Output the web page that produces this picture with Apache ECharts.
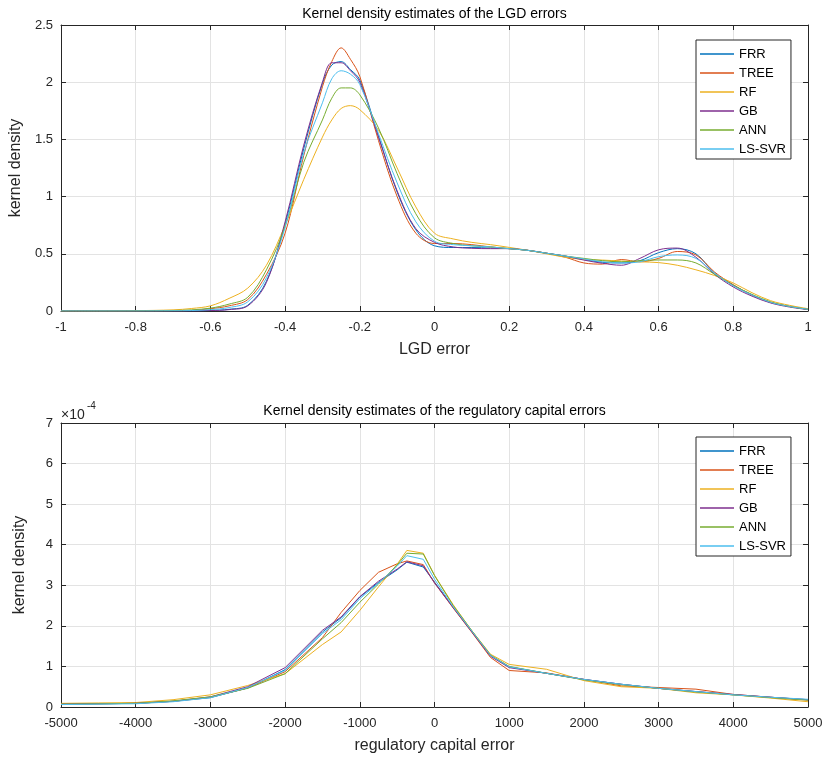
<!DOCTYPE html>
<html>
<head>
<meta charset="utf-8">
<script src="https://cdn.jsdelivr.net/npm/echarts@6/dist/echarts.min.js"></script>
<style>
html,body{margin:0;padding:0;background:#fff;}
#chart{width:827px;height:763px;}
</style>
</head>
<body>
<div id="chart"></div>
<script>
// ---------- DATA ----------
const seriesNames = ['FRR', 'TREE', 'RF', 'GB', 'ANN', 'LS-SVR'];
const seriesColors = ['#0072BD', '#D95319', '#EDB120', '#7E2F8E', '#77AC30', '#4DBEEE'];

// Top panel: LGD error
const lgdX = [-1,-0.9,-0.8,-0.7,-0.65,-0.6,-0.55,-0.5,-0.45,-0.4,-0.35,-0.3,-0.275,-0.25,-0.225,-0.2,-0.15,-0.1,-0.05,0,0.05,0.1,0.15,0.2,0.25,0.3,0.35,0.4,0.45,0.5,0.55,0.6,0.65,0.7,0.75,0.8,0.85,0.9,0.95,1];
const lgdFRR  = [0,0,0,0.001,0.002,0.005,0.015,0.05,0.26,0.76,1.42,1.99,2.15,2.18,2.11,2.02,1.53,1.04,0.71,0.57,0.555,0.555,0.55,0.545,0.53,0.505,0.48,0.45,0.425,0.42,0.44,0.51,0.545,0.5,0.33,0.225,0.14,0.075,0.04,0.015];
const lgdTREE = [0,0,0,0.002,0.005,0.02,0.045,0.1,0.32,0.68,1.36,1.96,2.18,2.30,2.2,2.05,1.49,1.0,0.68,0.59,0.59,0.58,0.56,0.545,0.53,0.505,0.47,0.42,0.41,0.45,0.43,0.46,0.52,0.49,0.34,0.23,0.14,0.075,0.04,0.015];
const lgdRF   = [0,0.001,0.003,0.01,0.022,0.045,0.11,0.2,0.4,0.75,1.15,1.52,1.67,1.77,1.795,1.76,1.58,1.25,0.91,0.68,0.63,0.6,0.58,0.556,0.53,0.5,0.47,0.45,0.445,0.437,0.43,0.423,0.4,0.36,0.31,0.245,0.16,0.09,0.05,0.02];
const lgdGB   = [0,0,0,0.001,0.001,0.004,0.012,0.045,0.25,0.78,1.45,2.0,2.17,2.17,2.1,2.0,1.52,1.05,0.72,0.6,0.56,0.548,0.545,0.545,0.53,0.505,0.48,0.445,0.417,0.40,0.46,0.535,0.55,0.47,0.32,0.21,0.13,0.07,0.035,0.012];
const lgdANN  = [0,0,0.001,0.004,0.01,0.025,0.06,0.12,0.36,0.74,1.3,1.67,1.86,1.95,1.95,1.89,1.6,1.2,0.85,0.64,0.59,0.57,0.56,0.545,0.53,0.505,0.48,0.46,0.44,0.43,0.44,0.446,0.446,0.42,0.32,0.225,0.145,0.08,0.04,0.015];
const lgdLS   = [0,0,0,0.002,0.004,0.012,0.03,0.08,0.29,0.73,1.38,1.82,2.03,2.1,2.07,1.98,1.55,1.12,0.78,0.61,0.58,0.57,0.56,0.545,0.53,0.505,0.48,0.455,0.43,0.42,0.43,0.475,0.49,0.46,0.33,0.22,0.14,0.075,0.04,0.015];

// Bottom panel: regulatory capital error (density in units of 1e-4)
const capX = [-5000,-4500,-4000,-3500,-3000,-2500,-2000,-1500,-1250,-1000,-750,-500,-370,-150,0,250,500,750,1000,1500,2000,2500,3000,3500,4000,4500,5000];
const capFRR  = [0.07,0.08,0.09,0.14,0.23,0.47,0.92,1.85,2.2,2.71,3.07,3.38,3.57,3.45,3.08,2.46,1.86,1.27,0.99,0.83,0.68,0.56,0.46,0.38,0.3,0.24,0.18];
const capTREE = [0.07,0.08,0.09,0.14,0.24,0.47,0.87,1.71,2.33,2.87,3.32,3.53,3.6,3.51,3.06,2.44,1.84,1.22,0.9,0.84,0.68,0.52,0.48,0.44,0.31,0.24,0.17];
const capRF   = [0.09,0.1,0.11,0.18,0.3,0.53,0.82,1.54,1.85,2.38,2.96,3.52,3.86,3.79,3.25,2.52,1.88,1.3,1.05,0.93,0.65,0.5,0.46,0.35,0.3,0.22,0.13];
const capGB   = [0.07,0.08,0.09,0.14,0.25,0.5,0.97,1.89,2.22,2.72,3.1,3.4,3.58,3.48,3.06,2.45,1.85,1.25,0.97,0.83,0.68,0.56,0.46,0.38,0.31,0.24,0.18];
const capANN  = [0.07,0.08,0.09,0.15,0.25,0.46,0.82,1.68,2.08,2.58,3.03,3.5,3.79,3.77,3.24,2.5,1.88,1.28,1.0,0.83,0.67,0.55,0.46,0.37,0.3,0.23,0.17];
const capLS   = [0.06,0.07,0.08,0.13,0.23,0.48,0.9,1.81,2.15,2.67,3.05,3.47,3.73,3.64,3.15,2.47,1.87,1.27,0.99,0.83,0.68,0.56,0.46,0.38,0.3,0.24,0.19];

const lgdSeries = [lgdFRR, lgdTREE, lgdRF, lgdGB, lgdANN, lgdLS];
const capSeries = [capFRR, capTREE, capRF, capGB, capANN, capLS];

// ---------- CHART ----------
const FONT = '"Liberation Sans", Arial, Helvetica, sans-serif';
const AX = '#262626';
const GRIDC = '#e3e3e3';
const chart = echarts.init(document.getElementById('chart'), null, {renderer: 'canvas'});

function zip(xs, ys) { return xs.map((x, i) => [x, ys[i]]); }

function xAxisMain(gi, min, max, interval, name) {
  return {
    type: 'value', gridIndex: gi, min: min, max: max, interval: interval, position: 'bottom',
    name: name, nameLocation: 'middle', nameGap: 31,
    nameTextStyle: {fontFamily: FONT, fontSize: 16, color: AX},
    axisLine: {show: true, onZero: false, lineStyle: {color: AX, width: 1}},
    axisTick: {show: true, inside: true, length: 5, lineStyle: {color: AX}},
    axisLabel: {fontFamily: FONT, fontSize: 13, color: AX, margin: 10, formatter: v => String(v)},
    splitLine: {show: true, lineStyle: {color: GRIDC, width: 1}}
  };
}
function xAxisTop(gi, min, max, interval) {
  return {
    type: 'value', gridIndex: gi, min: min, max: max, interval: interval, position: 'top',
    axisLine: {show: true, onZero: false, lineStyle: {color: AX, width: 1}},
    axisTick: {show: true, inside: true, length: 5, lineStyle: {color: AX}},
    axisLabel: {show: false}, splitLine: {show: false}
  };
}
function yAxisMain(gi, min, max, interval, name, fmt) {
  return {
    type: 'value', gridIndex: gi, min: min, max: max, interval: interval, position: 'left',
    name: name, nameLocation: 'middle', nameGap: 33, nameRotate: 90,
    nameTextStyle: {fontFamily: FONT, fontSize: 16, color: AX},
    axisLine: {show: true, onZero: false, lineStyle: {color: AX, width: 1}},
    axisTick: {show: true, inside: true, length: 5, lineStyle: {color: AX}},
    axisLabel: {fontFamily: FONT, fontSize: 13, color: AX, margin: 8, formatter: fmt},
    splitLine: {show: true, lineStyle: {color: GRIDC, width: 1}}
  };
}
function yAxisRight(gi, min, max, interval) {
  return {
    type: 'value', gridIndex: gi, min: min, max: max, interval: interval, position: 'right',
    axisLine: {show: true, onZero: false, lineStyle: {color: AX, width: 1}},
    axisTick: {show: true, inside: true, length: 5, lineStyle: {color: AX}},
    axisLabel: {show: false}, splitLine: {show: false}
  };
}

function legendAt(top) {
  return {
    orient: 'vertical', left: 696, top: top,
    data: seriesNames,
    icon: 'rect', itemWidth: 34, itemHeight: 1.5, itemGap: 3,
    padding: [6, 5, 2, 4],
    borderColor: AX, borderWidth: 1, backgroundColor: '#fff',
    selectedMode: false,
    textStyle: {fontFamily: FONT, fontSize: 13, color: '#000', lineHeight: 16}
  };
}

const series = [];
seriesNames.forEach((n, i) => {
  series.push({
    name: n, type: 'line', xAxisIndex: 0, yAxisIndex: 0,
    data: zip(lgdX, lgdSeries[i]), smooth: 0.35, symbol: 'none', showSymbol: false,
    lineStyle: {color: seriesColors[i], width: 1}, itemStyle: {color: seriesColors[i]}
  });
});
seriesNames.forEach((n, i) => {
  series.push({
    name: n, type: 'line', xAxisIndex: 2, yAxisIndex: 2,
    data: zip(capX, capSeries[i]), smooth: false, symbol: 'none', showSymbol: false,
    lineStyle: {color: seriesColors[i], width: 1}, itemStyle: {color: seriesColors[i]}
  });
});

const option = {
  backgroundColor: '#fff',
  animation: false,
  color: seriesColors,
  grid: [
    {left: 61, top: 25, width: 747, height: 286, containLabel: false},
    {left: 61, top: 423, width: 747, height: 284, containLabel: false}
  ],
  xAxis: [
    xAxisMain(0, -1, 1, 0.2, 'LGD error'),
    xAxisTop(0, -1, 1, 0.2),
    xAxisMain(1, -5000, 5000, 1000, 'regulatory capital error'),
    xAxisTop(1, -5000, 5000, 1000)
  ],
  yAxis: [
    yAxisMain(0, 0, 2.5, 0.5, 'kernel density', v => String(v)),
    yAxisRight(0, 0, 2.5, 0.5),
    yAxisMain(1, 0, 7, 1, 'kernel density', v => String(v)),
    yAxisRight(1, 0, 7, 1)
  ],
  legend: [legendAt(40), legendAt(437)],
  graphic: [
    {type: 'text', x: 434.5, y: 14, style: {text: 'Kernel density estimates of the LGD errors', font: '14px ' + FONT, fill: '#000', textAlign: 'center', textVerticalAlign: 'middle'}},
    {type: 'text', x: 434.5, y: 411, style: {text: 'Kernel density estimates of the regulatory capital errors', font: '14px ' + FONT, fill: '#000', textAlign: 'center', textVerticalAlign: 'middle'}},
    {type: 'text', x: 61, y: 415, style: {text: '\u00d710', font: '14px ' + FONT, fill: AX, textAlign: 'left', textVerticalAlign: 'middle'}},
    {type: 'text', x: 87, y: 406, style: {text: '-4', font: '10px ' + FONT, fill: AX, textAlign: 'left', textVerticalAlign: 'middle'}}
  ],
  series: series
};
chart.setOption(option);
</script>
</body>
</html>
